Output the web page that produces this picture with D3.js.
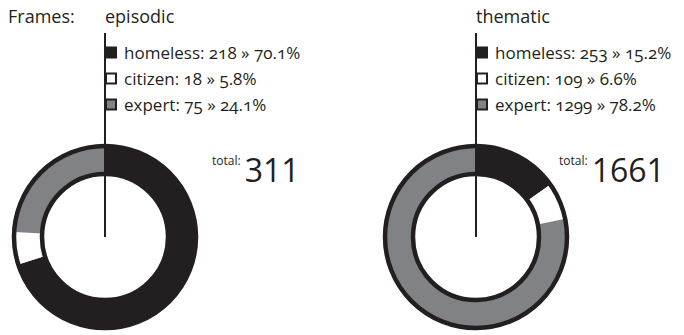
<!DOCTYPE html>
<html>
<head>
<meta charset="utf-8">
<script src="https://cdn.jsdelivr.net/npm/d3@7"></script>
<style>
  body { margin: 0; background: #fff; }
  svg text { font-family: "Open Sans", sans-serif; fill: #231f20; }
  .num { font-variant-numeric: oldstyle-nums; }
</style>
</head>
<body>
<div id="chart"></div>
<script>
var frames = ["episodic", "thematic"];
var categories = ["homeless", "citizen", "expert"];
var episodicCounts = [218, 18, 75];
var thematicCounts = [253, 109, 1299];
var colors = ["#231f20", "#ffffff", "#808285"];

var width = 684, height = 335;
var svg = d3.select("#chart").append("svg").attr("width", width).attr("height", height);

var x = d3.scalePoint().domain(frames).range([105, 476]);
var rowY = d3.scalePoint().domain(categories).range([53, 105]);
var color = d3.scaleOrdinal().domain(categories).range(colors);
var pct = d3.format(".1f");

var cy = 237, rOut = 91, rIn = 63;
var pie = d3.pie().sort(null).value(d => d.count);
var arc = d3.arc().innerRadius(rIn).outerRadius(rOut);

svg.append("text").attr("x", 8).attr("y", 23).attr("font-size", 18).text("Frames:");

function drawFrame(name, counts, totalX) {
    var total = d3.sum(counts);
    var data = categories.map((c, i) => ({cat: c, count: counts[i]}));
    var cx = x(name);
    var g = svg.append("g").attr("transform", "translate(" + cx + "," + cy + ")");

    g.selectAll("path").data(pie(data)).enter().append("path")
        .attr("d", arc)
        .attr("fill", d => color(d.data.cat));
    g.append("circle").attr("r", rOut).attr("fill", "none").attr("stroke", "#231f20").attr("stroke-width", 4.5);
    g.append("circle").attr("r", rIn).attr("fill", "none").attr("stroke", "#231f20").attr("stroke-width", 4.5);

    // pointer line from legend down to the centre
    svg.append("line").attr("x1", cx).attr("x2", cx).attr("y1", 33).attr("y2", cy)
        .attr("stroke", "#231f20").attr("stroke-width", 2);

    svg.append("text").attr("x", cx).attr("y", 23).attr("font-size", 18).text(name);

    var leg = svg.append("g");
    leg.selectAll("rect").data(data).enter().append("rect")
        .attr("x", cx + 1).attr("y", d => rowY(d.cat) - 5.5)
        .attr("width", 10).attr("height", 10)
        .attr("fill", d => color(d.cat))
        .attr("stroke", "#231f20").attr("stroke-width", 2);
    leg.selectAll("text").data(data).enter().append("text")
        .attr("class", "num")
        .attr("x", cx + 19).attr("y", d => rowY(d.cat) + 6)
        .attr("font-size", 17)
        .text(d => d.cat + ": " + d.count + " \u00bb " + pct(d.count / total * 100) + "%");

    var t = svg.append("text").attr("y", 182);
    t.append("tspan").attr("x", totalX).attr("dy", -17).attr("font-size", 12).text("total:");
    t.append("tspan").attr("dx", 4).attr("dy", 17).attr("font-size", 32).text(total);
}

drawFrame("episodic", episodicCounts, 212);
drawFrame("thematic", thematicCounts, 559);
</script>
</body>
</html>
